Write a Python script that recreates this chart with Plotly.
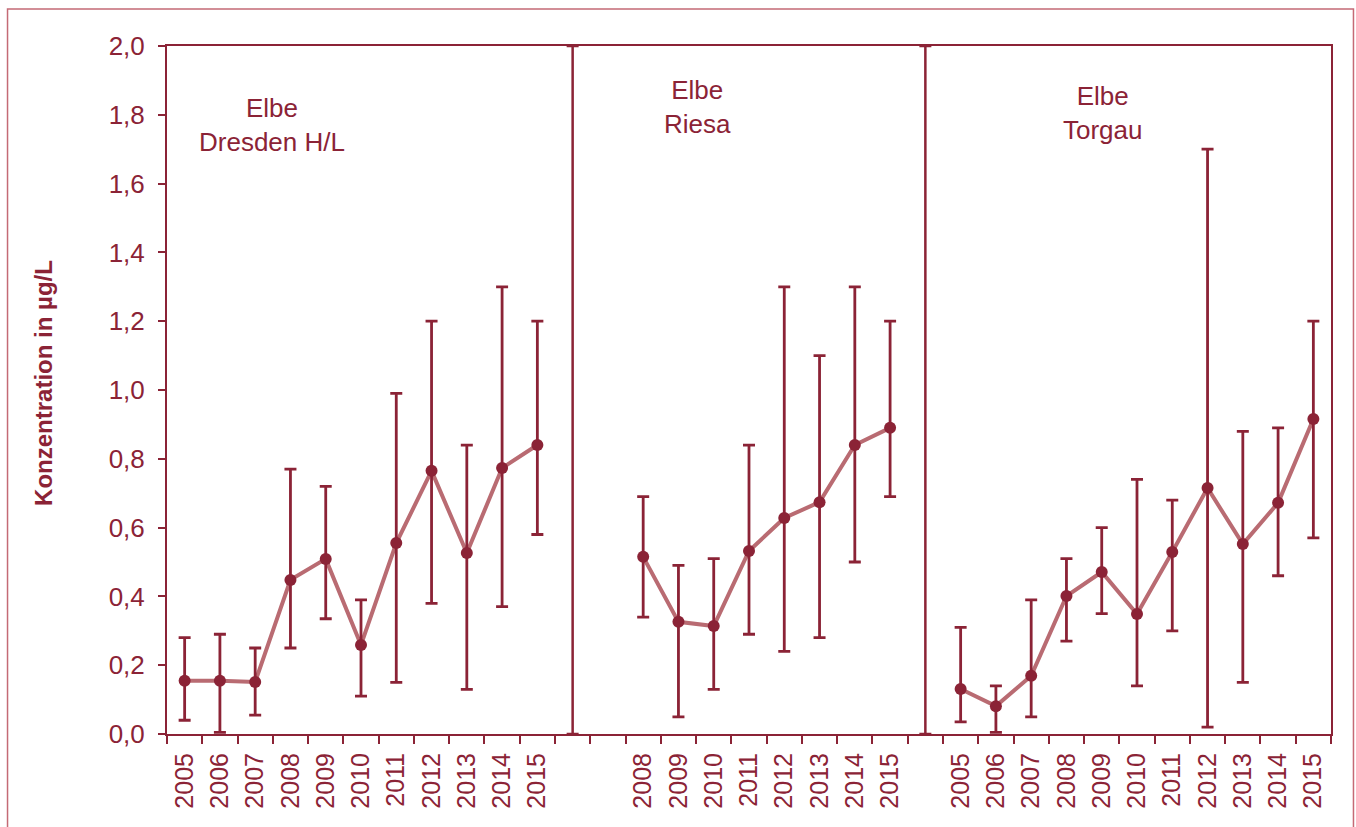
import plotly.graph_objects as go

# Annual mean concentrations with min/max ranges, three Elbe stations
years_full = ["2005", "2006", "2007", "2008", "2009", "2010", "2011", "2012", "2013", "2014", "2015"]
years_riesa = ["2008", "2009", "2010", "2011", "2012", "2013", "2014", "2015"]

dresden_mean = [0.155, 0.155, 0.151, 0.448, 0.509, 0.259, 0.555, 0.765, 0.526, 0.773, 0.840]
dresden_low = [0.04, 0.005, 0.055, 0.25, 0.335, 0.11, 0.15, 0.38, 0.13, 0.37, 0.58]
dresden_high = [0.28, 0.29, 0.25, 0.77, 0.72, 0.39, 0.99, 1.20, 0.84, 1.30, 1.20]

riesa_mean = [0.515, 0.326, 0.314, 0.532, 0.628, 0.674, 0.840, 0.890]
riesa_low = [0.34, 0.05, 0.13, 0.29, 0.24, 0.28, 0.50, 0.69]
riesa_high = [0.69, 0.49, 0.51, 0.84, 1.30, 1.10, 1.30, 1.20]

torgau_mean = [0.131, 0.081, 0.169, 0.401, 0.471, 0.349, 0.529, 0.715, 0.552, 0.672, 0.916]
torgau_low = [0.035, 0.005, 0.05, 0.27, 0.35, 0.14, 0.30, 0.02, 0.15, 0.46, 0.57]
torgau_high = [0.31, 0.14, 0.39, 0.51, 0.60, 0.74, 0.68, 1.70, 0.88, 0.89, 1.20]

station_labels = ["Elbe<br>Dresden H/L", "Elbe<br>Riesa", "Elbe<br>Torgau"]

# Category slots on one shared axis: 11 + divider + blank + 8 + divider + 11
pos_dresden = list(range(0, 11))
pos_riesa = list(range(13, 21))
pos_torgau = list(range(22, 33))
divider_pos = [11, 21]
y_max = 2.0

DARK = "#8B2336"
ROSE = "#B96B72"
FONT = "Liberation Sans, Arial, sans-serif"

fig = go.Figure()

series = [
    (pos_dresden, dresden_mean, dresden_low, dresden_high),
    (pos_riesa, riesa_mean, riesa_low, riesa_high),
    (pos_torgau, torgau_mean, torgau_low, torgau_high),
]

# connecting lines first so markers and whiskers sit on top
for xs, m, lo, hi in series:
    fig.add_trace(go.Scatter(x=xs, y=m, mode="lines",
                             line=dict(color=ROSE, width=4), hoverinfo="skip",
                             showlegend=False))

for xs, m, lo, hi in series:
    fig.add_trace(go.Scatter(
        x=xs, y=m, mode="markers",
        marker=dict(color=DARK, size=12),
        error_y=dict(type="data", symmetric=False,
                     array=[h - v for h, v in zip(hi, m)],
                     arrayminus=[v - l for v, l in zip(m, lo)],
                     color=DARK, thickness=2.8, width=6),
        showlegend=False))

# panel dividers spanning the full value range
fig.add_trace(go.Scatter(
    x=divider_pos, y=[y_max / 2] * len(divider_pos), mode="markers",
    marker=dict(size=1, color="rgba(0,0,0,0)"),
    error_y=dict(type="constant", value=y_max / 2, color=DARK, thickness=2.5, width=6),
    hoverinfo="skip", showlegend=False))

# tick labels at category centres
tick_pos = pos_dresden + pos_riesa + pos_torgau
tick_txt = years_full + years_riesa + years_full

x_range = [-0.5, 32.5]

fig.update_layout(
    width=1356, height=827,
    margin=dict(l=167, r=25, t=46, b=93),
    paper_bgcolor="white", plot_bgcolor="white",
    separators=",.",
    font=dict(family=FONT, color=DARK, size=24),
    xaxis=dict(range=x_range, tickmode="array",
               tickvals=[i - 0.5 for i in range(34)],
               ticktext=[""] * 34,
               ticks="outside", ticklen=8, tickwidth=2, tickcolor=DARK,
               showline=True, linecolor=DARK, linewidth=2, mirror=True,
               showgrid=False, zeroline=False),
    xaxis2=dict(range=x_range, overlaying="x", side="bottom", anchor="y",
                tickmode="array", tickvals=tick_pos, ticktext=tick_txt,
                tickangle=-90, ticks="outside", ticklen=8, tickcolor="rgba(0,0,0,0)",
                tickfont=dict(size=25, color=DARK, family=FONT),
                showline=False, showgrid=False, zeroline=False),
    yaxis=dict(range=[0, y_max], tickmode="linear", tick0=0, dtick=0.2,
               tickformat=".1f", ticks="outside", ticklen=7, tickwidth=2,
               tickcolor=DARK, showline=True, linecolor=DARK, linewidth=2,
               mirror=True, showgrid=False, zeroline=False,
               ticklabelstandoff=8,
               tickfont=dict(size=26, color=DARK, family=FONT)),
)

# dummy trace to activate the label axis
fig.add_trace(go.Scatter(x=[None], y=[None], xaxis="x2", showlegend=False, hoverinfo="skip"))

# station names
label_x = [2.47, 14.55, 26.04]
label_y = [1.770, 1.823, 1.805]
for txt, xv, yv in zip(station_labels, label_x, label_y):
    fig.add_annotation(x=xv, y=yv, text=txt, showarrow=False,
                       font=dict(size=26, color=DARK, family=FONT))

fig.add_annotation(xref="paper", yref="paper", x=-0.1067, y=0.51,
                   xanchor="center", yanchor="middle",
                   text="<b>Konzentration in µg/L</b>", textangle=-90,
                   showarrow=False, font=dict(size=24, color=DARK, family=FONT))

# outer frame around the chart
fig.add_shape(type="rect", xref="paper", yref="paper",
              x0=-0.137, x1=1.0193, y0=-0.16, y1=1.0538,
              line=dict(color="#C46A75", width=1.5), layer="below")

fig.write_html("out.html")
